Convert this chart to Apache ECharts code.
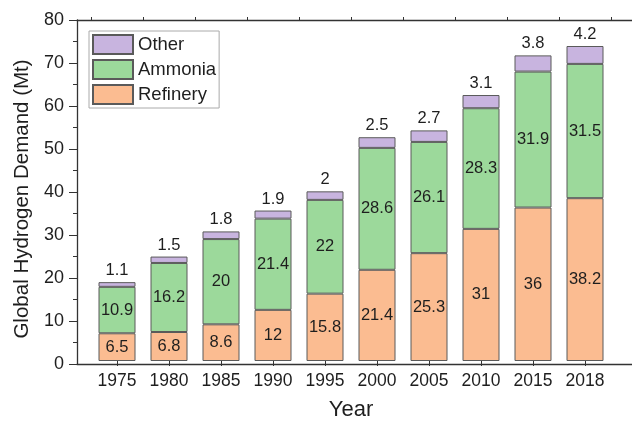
<!DOCTYPE html>
<html><head><meta charset="utf-8">
<script src="https://cdn.jsdelivr.net/npm/echarts@6/dist/echarts.min.js"></script>
<style>html,body{margin:0;padding:0;background:#fff}#c{width:632px;height:426px}</style>
</head><body><div id="c"></div>
<script>
var years = ['1975','1980','1985','1990','1995','2000','2005','2010','2015','2018'];
var refinery = [6.5, 6.8, 8.6, 12, 15.8, 21.4, 25.3, 31, 36, 38.2];
var ammonia = [10.9, 16.2, 20, 21.4, 22, 28.6, 26.1, 28.3, 31.9, 31.5];
var other = [1.1, 1.5, 1.8, 1.9, 2, 2.5, 2.7, 3.1, 3.8, 4.2];
var yTicks = {min: 0, max: 80, interval: 10};

var FONT = '"Liberation Sans", Arial, sans-serif';
var AX = '#333';
var TXT = '#1e1e1e';
var chart = echarts.init(document.getElementById('c'), null, {renderer: 'canvas'});
var border = {borderColor: '#5a5a5a', borderWidth: 1};
var inLabel = {show: true, position: 'inside', color: TXT, fontSize: 16.5, fontFamily: FONT};
chart.setOption({
  animation: false,
  textStyle: {fontFamily: FONT},
  grid: [
    {left: 91, right: 21, top: 20, bottom: 62},
    {left: 77, right: 0, top: 20, bottom: 62}
  ],
  legend: {
    data: ['Other', 'Ammonia', 'Refinery'],
    icon: 'rect',
    orient: 'vertical', left: 89, top: 31,
    itemWidth: 40, itemHeight: 19, itemGap: 4, padding: [3, 3, 3, 3],
    borderColor: '#aaa', borderWidth: 1,
    textStyle: {fontSize: 18.5, color: TXT, fontFamily: FONT}
  },
  xAxis: [
    {type: 'category', gridIndex: 0, data: years,
     axisLine: {show: false},
     axisTick: {show: true, alignWithLabel: true, length: 5, lineStyle: {color: AX}},
     axisLabel: {interval: 0, hideOverlap: false, fontSize: 17.5, color: TXT, margin: 11, fontFamily: FONT},
     name: 'Year', nameLocation: 'middle', nameGap: 38,
     nameTextStyle: {fontSize: 22, color: TXT, fontFamily: FONT}},
    {type: 'category', gridIndex: 0, data: years,
     axisLine: {show: false},
     axisTick: {show: true, interval: 0, alignWithLabel: false, length: 3, lineStyle: {color: AX}},
     axisLabel: {show: false}},
    {type: 'value', gridIndex: 1, min: 0, max: 1, position: 'bottom',
     axisLine: {show: true, lineStyle: {color: AX, width: 1.3}},
     axisTick: {show: false}, axisLabel: {show: false}, splitLine: {show: false}},
    {type: 'value', gridIndex: 1, min: 0, max: 1, position: 'top',
     axisLine: {show: true, lineStyle: {color: AX, width: 1.3}},
     axisTick: {show: false}, axisLabel: {show: false}, splitLine: {show: false}}
  ],
  yAxis: [
    {type: 'value', gridIndex: 0, min: yTicks.min, max: yTicks.max, interval: yTicks.interval,
     show: false, splitLine: {show: false}},
    {type: 'value', gridIndex: 1, min: yTicks.min, max: yTicks.max, interval: yTicks.interval,
     axisLine: {show: true, lineStyle: {color: AX, width: 1.3}},
     axisTick: {show: true, length: 8, lineStyle: {color: AX}},
     minorTick: {show: true, splitNumber: 2, length: 4, lineStyle: {color: AX}},
     axisLabel: {fontSize: 18, color: TXT, margin: 13, fontFamily: FONT},
     splitLine: {show: false},
     name: 'Global Hydrogen Demand (Mt)', nameLocation: 'middle', nameGap: 44,
     nameTextStyle: {fontSize: 20.5, color: TXT, fontFamily: FONT, padding: [0, 14, 0, 0]}}
  ],
  series: [
    {name: 'Refinery', type: 'bar', stack: 's', xAxisIndex: 0, yAxisIndex: 0,
     data: refinery, barWidth: 37,
     itemStyle: Object.assign({color: '#FBBC91'}, border), label: inLabel},
    {name: 'Ammonia', type: 'bar', stack: 's', xAxisIndex: 0, yAxisIndex: 0,
     data: ammonia, barWidth: 37,
     itemStyle: Object.assign({color: '#9CD99B'}, border), label: inLabel},
    {name: 'Other', type: 'bar', stack: 's', xAxisIndex: 0, yAxisIndex: 0,
     data: other, barWidth: 37,
     itemStyle: Object.assign({color: '#C8B4DF'}, border),
     label: {show: true, position: 'top', distance: 3, color: TXT, fontSize: 16.5, fontFamily: FONT}}
  ]
});
</script></body></html>
